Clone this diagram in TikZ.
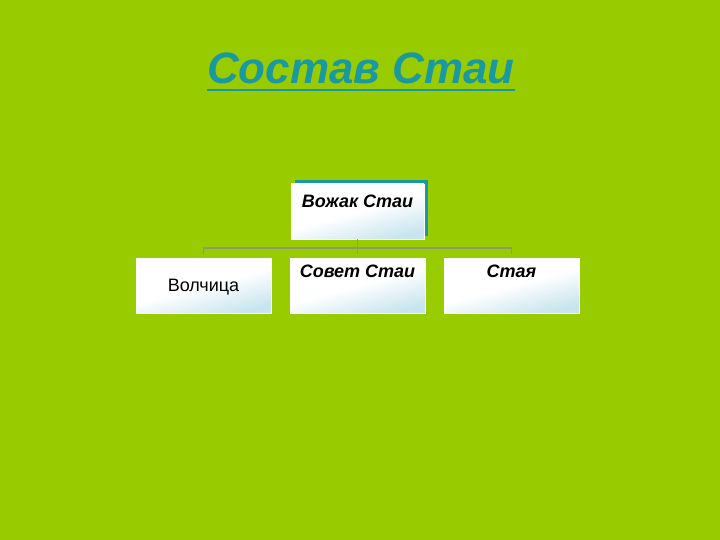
\documentclass[tikz,border=0pt]{standalone}
\usepackage{fontspec}
\setmainfont{Liberation Sans}
\definecolor{bg}{HTML}{99CC00}
\definecolor{teal1}{HTML}{1A9AA0}
\definecolor{boxblue}{HTML}{C8E4EE}
\definecolor{linegray}{HTML}{8C9A70}
\begin{document}
\begin{tikzpicture}[x=1pt,y=-1pt,
  box/.style={draw=white,line width=0.6pt,minimum width=135pt,minimum height=55pt,inner sep=0pt,
    shading=axis,top color=white,bottom color=boxblue,middle color=white,shading angle=15},
  lbl/.style={font=\fontsize{18}{21}\selectfont\bfseries\itshape,anchor=north},
  conn/.style={draw=linegray,line width=1.8pt}]
\useasboundingbox[fill=bg] (0,0) rectangle (720,540);
% title
\node[font=\fontsize{44}{50}\selectfont\bfseries\itshape,text=teal1,anchor=base] (title) at (361,84) {Состав Стаи};
\draw[teal1,line width=2.5pt] (207,90) -- (515,90);
% top box with teal shadow
\fill[teal1] (295,180) rectangle (428,236);
\node[box,minimum width=133pt,minimum height=55pt] (top) at (357.5,211.5) {};
\node[lbl] (toplbl) at (top.north) [yshift=-8pt] {Вожак Стаи};
% bottom boxes
\node[box] (b1) at (203.5,285.5) {};
\node[box] (b2) at (357.5,285.5) {};
\node[box] (b3) at (511.5,285.5) {};
\node[font=\fontsize{18}{21}\selectfont] (l1) at (b1.center) [yshift=-2pt] {Волчица};
\node[lbl] (l2) at (b2.north) [yshift=-4pt] {Совет Стаи};
\node[lbl] (l3) at (b3.north) [yshift=-4pt] {Стая};
% connectors
\coordinate (j) at (357.5,248);
\draw[conn] (top.south) -- (j);
\draw[conn] (203.5,253.5) -- (203.5,248) -- (511.5,248) -- (511.5,253.5);
\draw[conn] (j) -- (357.5,253.5);
\end{tikzpicture}
\end{document}
